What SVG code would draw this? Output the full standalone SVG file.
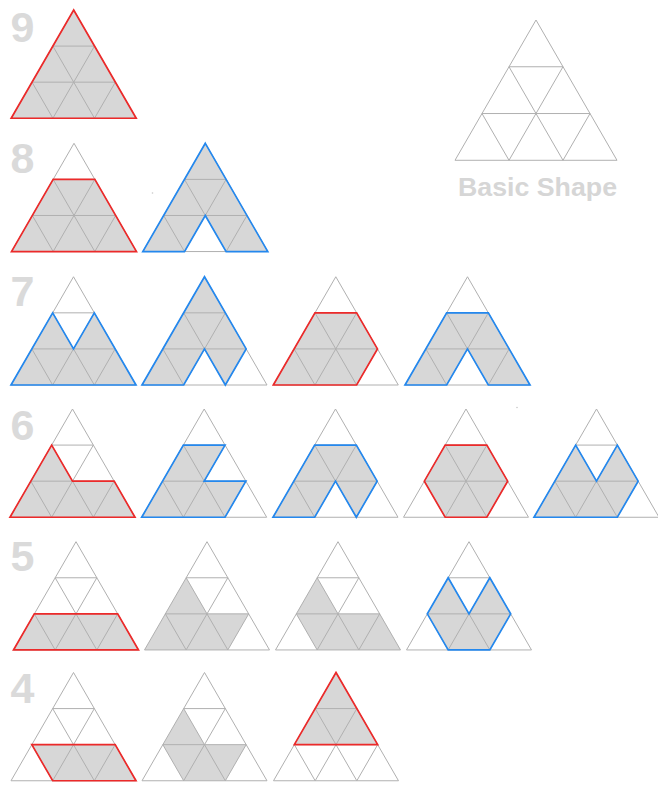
<svg xmlns="http://www.w3.org/2000/svg" xmlns:xlink="http://www.w3.org/1999/xlink" width="658" height="786" viewBox="0 0 658 786">
<style>
.f{fill:#d7d7d7;stroke:none}
.g{fill:none;stroke:#b0b0b0;stroke-width:1;vector-effect:non-scaling-stroke}
.r{fill:none;stroke:#ec2a2a;stroke-width:1.7;stroke-linejoin:miter}
.b{fill:none;stroke:#2488ee;stroke-width:1.7;stroke-linejoin:miter}
.num{font-family:"Liberation Sans",Arial,sans-serif;font-weight:bold;font-size:43px;fill:#dadada}
.lbl{font-family:"Liberation Sans",Arial,sans-serif;font-weight:bold;font-size:26.5px;fill:#d6d6d6}
</style>
<defs>
<path id="grid" class="g" d="M0,0 L-62.5,108.25 L62.5,108.25 Z M-20.83,36.08 L20.83,36.08 M-41.67,72.17 L41.67,72.17 M20.83,36.08 L-20.83,108.25 M41.67,72.17 L20.83,108.25 M-20.83,36.08 L20.83,108.25 M-41.67,72.17 L-20.83,108.25"/>
</defs>
<rect width="658" height="786" fill="#ffffff"/>

<g id="labels">
<text class="num" x="10.5" y="42">9</text>
<text class="num" x="10.5" y="173">8</text>
<text class="num" x="10.5" y="306">7</text>
<text class="num" x="10.5" y="440">6</text>
<text class="num" x="10.5" y="571">5</text>
<text class="num" x="10.5" y="703">4</text>
</g>

<g id="basic-shape">
<use xlink:href="#grid" href="#grid" transform="translate(536,20) scale(1.296)"/>
<text class="lbl" x="458" y="196" textLength="159" lengthAdjust="spacingAndGlyphs">Basic Shape</text>
</g>

<!-- Row 9 -->
<g id="r9-1" transform="translate(73.7,10)">
<path class="f" d="M0,0 L62.5,108.25 L-62.5,108.25 Z"/>
<use xlink:href="#grid" href="#grid"/>
<path class="r" d="M0,0 L62.5,108.25 L-62.5,108.25 Z"/>
</g>

<!-- Row 8 -->
<g id="r8-1" transform="translate(74,143.3)">
<path class="f" d="M-20.83,36.08 L20.83,36.08 L62.5,108.25 L-62.5,108.25 Z"/>
<use xlink:href="#grid" href="#grid"/>
<path class="r" d="M-20.83,36.08 L20.83,36.08 L62.5,108.25 L-62.5,108.25 Z"/>
</g>
<g id="r8-2" transform="translate(205.3,143.3)">
<path class="f" d="M0,0 L62.5,108.25 L20.83,108.25 L0,72.17 L-20.83,108.25 L-62.5,108.25 Z"/>
<use xlink:href="#grid" href="#grid"/>
<path class="b" d="M0,0 L62.5,108.25 L20.83,108.25 L0,72.17 L-20.83,108.25 L-62.5,108.25 Z"/>
</g>

<!-- Row 7 -->
<g id="r7-1" transform="translate(73.5,276.75)">
<path class="f" d="M-20.83,36.08 L0,72.17 L20.83,36.08 L62.5,108.25 L-62.5,108.25 Z"/>
<use xlink:href="#grid" href="#grid"/>
<path class="b" d="M-20.83,36.08 L0,72.17 L20.83,36.08 L62.5,108.25 L-62.5,108.25 Z"/>
</g>
<g id="r7-2" transform="translate(204.5,276.75)">
<path class="f" d="M0,0 L41.67,72.17 L20.83,108.25 L0,72.17 L-20.83,108.25 L-62.5,108.25 Z"/>
<use xlink:href="#grid" href="#grid"/>
<path class="b" d="M0,0 L41.67,72.17 L20.83,108.25 L0,72.17 L-20.83,108.25 L-62.5,108.25 Z"/>
</g>
<g id="r7-3" transform="translate(335.8,276.75)">
<path class="f" d="M-20.83,36.08 L20.83,36.08 L41.67,72.17 L20.83,108.25 L-62.5,108.25 Z"/>
<use xlink:href="#grid" href="#grid"/>
<path class="r" d="M-20.83,36.08 L20.83,36.08 L41.67,72.17 L20.83,108.25 L-62.5,108.25 Z"/>
</g>
<g id="r7-4" transform="translate(467.5,276.75)">
<path class="f" d="M-20.83,36.08 L20.83,36.08 L62.5,108.25 L20.83,108.25 L0,72.17 L-20.83,108.25 L-62.5,108.25 Z"/>
<use xlink:href="#grid" href="#grid"/>
<path class="b" d="M-20.83,36.08 L20.83,36.08 L62.5,108.25 L20.83,108.25 L0,72.17 L-20.83,108.25 L-62.5,108.25 Z"/>
</g>

<!-- Row 6 -->
<g id="r6-1" transform="translate(72.5,409)">
<path class="f" d="M-20.83,36.08 L0,72.17 L41.67,72.17 L62.5,108.25 L-62.5,108.25 Z"/>
<use xlink:href="#grid" href="#grid"/>
<path class="r" d="M-20.83,36.08 L0,72.17 L41.67,72.17 L62.5,108.25 L-62.5,108.25 Z"/>
</g>
<g id="r6-2" transform="translate(204.2,409)">
<path class="f" d="M-20.83,36.08 L20.83,36.08 L0,72.17 L41.67,72.17 L20.83,108.25 L-62.5,108.25 Z"/>
<use xlink:href="#grid" href="#grid"/>
<path class="b" d="M-20.83,36.08 L20.83,36.08 L0,72.17 L41.67,72.17 L20.83,108.25 L-62.5,108.25 Z"/>
</g>
<g id="r6-3" transform="translate(335.5,409)">
<path class="f" d="M-20.83,36.08 L20.83,36.08 L41.67,72.17 L20.83,108.25 L0,72.17 L-20.83,108.25 L-62.5,108.25 Z"/>
<use xlink:href="#grid" href="#grid"/>
<path class="b" d="M-20.83,36.08 L20.83,36.08 L41.67,72.17 L20.83,108.25 L0,72.17 L-20.83,108.25 L-62.5,108.25 Z"/>
</g>
<g id="r6-4" transform="translate(466,409)">
<path class="f" d="M-20.83,36.08 L20.83,36.08 L41.67,72.17 L20.83,108.25 L-20.83,108.25 L-41.67,72.17 Z"/>
<use xlink:href="#grid" href="#grid"/>
<path class="r" d="M-20.83,36.08 L20.83,36.08 L41.67,72.17 L20.83,108.25 L-20.83,108.25 L-41.67,72.17 Z"/>
</g>
<g id="r6-5" transform="translate(596.5,409)">
<path class="f" d="M-20.83,36.08 L0,72.17 L20.83,36.08 L41.67,72.17 L20.83,108.25 L-62.5,108.25 Z"/>
<use xlink:href="#grid" href="#grid"/>
<path class="b" d="M-20.83,36.08 L0,72.17 L20.83,36.08 L41.67,72.17 L20.83,108.25 L-62.5,108.25 Z"/>
</g>

<!-- Row 5 -->
<g id="r5-1" transform="translate(76,541.7)">
<path class="f" d="M-41.67,72.17 L41.67,72.17 L62.5,108.25 L-62.5,108.25 Z"/>
<use xlink:href="#grid" href="#grid"/>
<path class="r" d="M-41.67,72.17 L41.67,72.17 L62.5,108.25 L-62.5,108.25 Z"/>
</g>
<g id="r5-2" transform="translate(207,541.7)">
<path class="f" d="M-20.83,36.08 L0,72.17 L41.67,72.17 L20.83,108.25 L-62.5,108.25 Z"/>
<use xlink:href="#grid" href="#grid"/>
</g>
<g id="r5-3" transform="translate(338,541.7)">
<path class="f" d="M-20.83,36.08 L0,72.17 L41.67,72.17 L62.5,108.25 L-20.83,108.25 L-41.67,72.17 Z"/>
<use xlink:href="#grid" href="#grid"/>
</g>
<g id="r5-4" transform="translate(469,541.7)">
<path class="f" d="M-20.83,36.08 L0,72.17 L20.83,36.08 L41.67,72.17 L20.83,108.25 L-20.83,108.25 L-41.67,72.17 Z"/>
<use xlink:href="#grid" href="#grid"/>
<path class="b" d="M-20.83,36.08 L0,72.17 L20.83,36.08 L41.67,72.17 L20.83,108.25 L-20.83,108.25 L-41.67,72.17 Z"/>
</g>

<!-- Row 4 -->
<g id="r4-1" transform="translate(73.5,672.5)">
<path class="f" d="M-41.67,72.17 L41.67,72.17 L62.5,108.25 L-20.83,108.25 Z"/>
<use xlink:href="#grid" href="#grid"/>
<path class="r" d="M-41.67,72.17 L41.67,72.17 L62.5,108.25 L-20.83,108.25 Z"/>
</g>
<g id="r4-2" transform="translate(204.5,672.5)">
<path class="f" d="M-20.83,36.08 L0,72.17 L41.67,72.17 L20.83,108.25 L-20.83,108.25 L-41.67,72.17 Z"/>
<use xlink:href="#grid" href="#grid"/>
</g>
<g id="r4-3" transform="translate(336,672.5)">
<path class="f" d="M0,0 L41.67,72.17 L-41.67,72.17 Z"/>
<use xlink:href="#grid" href="#grid"/>
<path class="r" d="M0,0 L41.67,72.17 L-41.67,72.17 Z"/>
</g>

<g id="specks" fill="#c8c8c8">
<circle cx="152.5" cy="193" r="0.8"/>
<circle cx="517" cy="407.5" r="0.8"/>
</g>
</svg>
